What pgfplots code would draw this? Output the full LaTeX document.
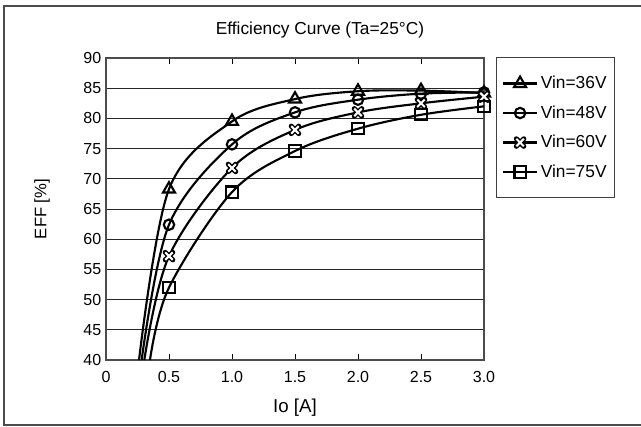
\documentclass[border=0pt]{standalone}
\usepackage{pgfplots}
\pgfplotsset{compat=1.18}
\usepackage{fontspec}
\setmainfont{Liberation Sans}
\pgfdeclareplotmark{ox}{%
  \pgfsetroundcap
  \pgfsetlinewidth{3.8pt}\pgfsetstrokecolor{black}%
  \pgfpathmoveto{\pgfqpoint{-\pgfplotmarksize}{-\pgfplotmarksize}}%
  \pgfpathlineto{\pgfqpoint{\pgfplotmarksize}{\pgfplotmarksize}}%
  \pgfpathmoveto{\pgfqpoint{-\pgfplotmarksize}{\pgfplotmarksize}}%
  \pgfpathlineto{\pgfqpoint{\pgfplotmarksize}{-\pgfplotmarksize}}%
  \pgfusepathqstroke
  \pgfsetlinewidth{1.5pt}\pgfsetstrokecolor{white}\pgfsetbuttcap
  \pgfpathmoveto{\pgfqpoint{-\pgfplotmarksize}{-\pgfplotmarksize}}%
  \pgfpathlineto{\pgfqpoint{\pgfplotmarksize}{\pgfplotmarksize}}%
  \pgfpathmoveto{\pgfqpoint{-\pgfplotmarksize}{\pgfplotmarksize}}%
  \pgfpathlineto{\pgfqpoint{\pgfplotmarksize}{-\pgfplotmarksize}}%
  \pgfusepathqstroke
}
\begin{document}
\begin{tikzpicture}[x=0.75pt,y=0.75pt]
\path[use as bounding box] (0,0) rectangle (641,426);
\draw[color=black!70, line width=1.1pt] (650,1) -- (4,1) -- (4,420) -- (650,420);
\node[font=\fontsize{13}{15}\selectfont] at (320,396) {Efficiency Curve (Ta=25°C)};
\begin{axis}[
  at={(79.5pt,49.5pt)}, anchor=south west,
  scale only axis, width=283.5pt, height=226.5pt,
  xmin=0, xmax=3, ymin=40, ymax=90,
  xtick={0,0.5,1,1.5,2,2.5,3},
  xticklabels={0,0.5,1.0,1.5,2.0,2.5,3.0},
  ytick={40,45,...,90},
  ymajorgrids,
  grid style={black!85, line width=0.75pt},
  axis line style={black!70, line width=1pt},
  tick align=inside,
  major tick length=4.5pt,
  xtick style={black, line width=0.75pt},
  ytick style={draw=none},
  tick label style={font=\fontsize{12}{14}\selectfont},
  xticklabel style={yshift=-5pt},
  /pgf/number format/assume math mode=true,
  xlabel={Io [A]}, ylabel={EFF [\%]},
  xlabel style={font=\fontsize{14}{16}\selectfont, at={(axis description cs:0.5,-0.159)}, anchor=center},
  ylabel style={font=\fontsize{12.5}{15}\selectfont, at={(axis description cs:-0.169,0.5)}, anchor=center},
  legend style={at={(1.032,1.003)}, anchor=north west, draw=black!75,
    line width=0.75pt, font=\fontsize{13}{15}\selectfont,
    row sep=7.2pt, inner xsep=4pt, inner ysep=12pt, cells={anchor=west}},
  legend image code/.code={\draw[mark repeat=2,mark phase=2] plot coordinates {(0cm,0cm) (0.45cm,0cm) (0.9cm,0cm)};},
  every axis plot/.append style={black, line width=1.6pt, smooth, tension=0.55, mark phase=2, mark options={solid, fill=white, line width=1.6pt}},
]
\addplot[mark=triangle, mark size=5.2pt] coordinates {(0.262,40) (0.5,68.3) (1.0,79.5) (1.5,83.2) (2.0,84.5) (2.5,84.6) (3.0,84.2)};
\addlegendentry{Vin=36V}
\addplot[mark=o, mark size=3.9pt] coordinates {(0.283,40) (0.5,62.4) (1.0,75.7) (1.5,81.0) (2.0,83.1) (2.5,84.1) (3.0,84.3)};
\addlegendentry{Vin=48V}
\addplot[mark=ox, mark size=2.8pt] coordinates {(0.304,40) (0.5,57.2) (1.0,71.8) (1.5,78.1) (2.0,81.0) (2.5,82.5) (3.0,83.6)};
\addlegendentry{Vin=60V}
\addplot[mark=square, mark size=4.2pt] coordinates {(0.349,40) (0.5,52.0) (1.0,67.8) (1.5,74.6) (2.0,78.3) (2.5,80.6) (3.0,82.0)};
\addlegendentry{Vin=75V}
\end{axis}
\end{tikzpicture}
\end{document}
